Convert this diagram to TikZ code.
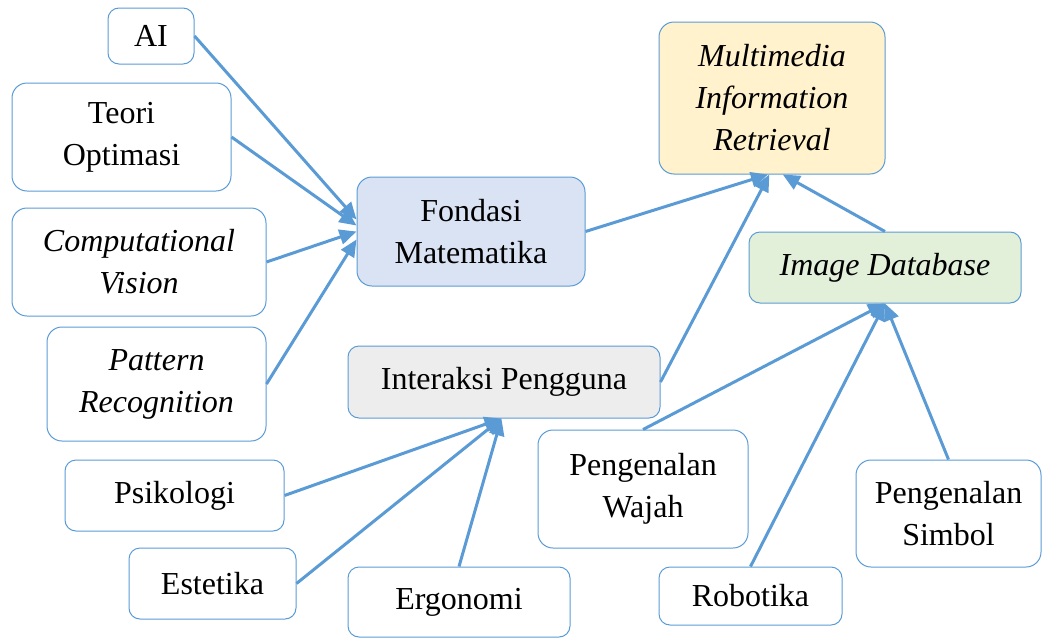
\documentclass[tikz,border=0pt]{standalone}
\usepackage{fontspec}
\setmainfont{Liberation Serif}
\usetikzlibrary{arrows.meta}
\definecolor{lineblue}{HTML}{5B9BD5}
\definecolor{fillblue}{HTML}{DAE3F3}
\definecolor{fillyellow}{HTML}{FFF2CC}
\definecolor{fillgreen}{HTML}{E2F0D9}
\definecolor{fillgrey}{HTML}{EDEDED}
\tikzset{
  box/.style={draw=lineblue, line width=1pt, rounded corners=15pt, align=center, inner sep=0pt},
  link/.style={draw=lineblue, line width=3pt, -{Triangle[length=17pt,width=15pt]}},
  plain/.style={draw=lineblue, line width=3pt}
}

\begin{document}
\begin{tikzpicture}[x=1pt,y=-1pt,font=\fontsize{32}{42}\selectfont]
        \useasboundingbox (0,0) rectangle (1051,637);
        % left side
        \node[box, minimum width=86pt, minimum height=56pt, rounded corners=11pt] (AI) at (151,36) {AI};
        \node[box, minimum width=219pt, minimum height=108pt] (TO) at (121.5,137) {Teori\\Optimasi};
        \node[box, minimum width=254pt, minimum height=108pt] (CV) at (139,262) {\itshape Computational\\\itshape Vision};
        \node[box, minimum width=219pt, minimum height=114pt] (PR) at (156.5,384) {\itshape Pattern\\\itshape Recognition};
        \node[box, fill=fillblue, minimum width=228pt, minimum height=109pt] (FM) at (471,231.5) {Fondasi\\Matematika};
        % top right
        \node[box, fill=fillyellow, minimum width=226pt, minimum height=152pt] (MIR) at (772,98) {\itshape Multimedia\\\itshape Information\\\itshape Retrieval};
        \node[box, fill=fillgreen, minimum width=272pt, minimum height=71pt, rounded corners=11pt] (ID) at (885,267.5) {\itshape Image Database};
        \node[box, fill=fillgrey, minimum width=312pt, minimum height=72pt, rounded corners=11pt] (IP) at (504,382) {Interaksi Pengguna};
        % bottom
        \node[box, minimum width=210pt, minimum height=118pt] (PW) at (643,489) {Pengenalan\\Wajah};
        \node[box, minimum width=185pt, minimum height=107pt] (PS) at (948.5,513.5) {Pengenalan\\Simbol};
        \node[box, minimum width=183pt, minimum height=58pt, rounded corners=11pt] (RB) at (750.5,596) {Robotika};
        \node[box, minimum width=219pt, minimum height=71pt, rounded corners=11pt] (PK) at (174.5,495.5) {Psikologi};
        \node[box, minimum width=167pt, minimum height=71pt, rounded corners=11pt] (ES) at (212.5,583.5) {Estetika};
        \node[box, minimum width=222pt, minimum height=70pt, rounded corners=11pt] (EG) at (459,602) {Ergonomi};

        \draw[link] (AI.east) -- (FM.174);
        \draw[link] (TO.east) -- (FM.177);
        \draw[link] (CV.east) -- (FM.180);
        \draw[link] (PR.east) -- (FM.184);
        \draw[link] (FM.east) -- (MIR.267);
        \draw[link] (IP.east) -- (MIR.268);
        \draw[link] (ID.north) -- (MIR.278);
        \draw[link] (PW.north) -- (ID.south);
        \draw[link] (RB.north) -- (ID.south);
        \draw[link] (PS.north) -- (ID.south);
        \draw[link] (PK.east) -- (IP.266);
        \draw[link] (ES.east) -- (IP.266);
        \draw[link] (EG.north) -- (IP.266);
\end{tikzpicture}
\end{document}
